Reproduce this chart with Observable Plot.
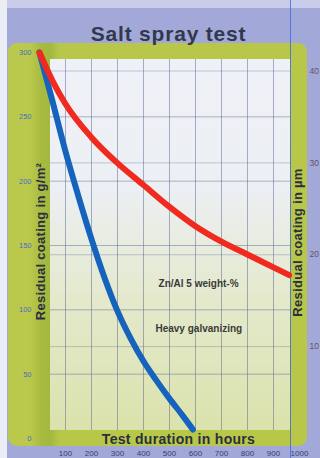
<!DOCTYPE html>
<html>
<head>
<meta charset="utf-8">
<script src="https://cdn.jsdelivr.net/npm/d3@7"></script>
<script src="https://cdn.jsdelivr.net/npm/@observablehq/plot@0.6"></script>
<style>
  html, body { margin: 0; padding: 0; background: #eef0f6; }
  #wrap { position: relative; width: 320px; height: 458px; overflow: hidden; background: #a2a9d9; font-family: "Liberation Sans", Arial, sans-serif; }
  .bg { position: absolute; }
  #leftstrip { left: 0; top: 0; width: 7px; height: 458px; background: #eceef6; }
  #topstrip { left: 0; top: 0; width: 320px; height: 8px; background: #c9cdea; }
  #frame { left: 8px; top: 43px; width: 299px; height: 403px; border-radius: 9px;
    background: linear-gradient(90deg, #bac94c 0px, #bac94c 22px, #a6ba40 34px, #a3b83e 42px, #b8c74a 52px, #b8c74a 100%); }
  #inner { left: 50px; top: 59px; width: 240px; height: 371px;
    background: linear-gradient(180deg, #eff1f8 0%, #eceff3 35%, #e4e9cc 65%, #dbe2ac 100%); }
  #scanline { left: 290px; top: 0; width: 1px; height: 458px; background: #2f63e6; opacity: 0.75; }
  #chart { position: absolute; left: 0; top: 0; }
</style>
</head>
<body>
<div id="wrap">
  <div class="bg" id="topstrip"></div>
  <div class="bg" id="leftstrip"></div>
  <div class="bg" id="frame"></div>
  <div class="bg" id="inner"></div>
  <div class="bg" id="scanline"></div>
  <div id="chart"></div>
</div>
<script>
// Data
const redHours  = [0, 50, 100, 200, 300, 400, 500, 600, 700, 800, 900, 960];
const redValues = [300, 278, 260, 234, 214, 197, 180, 165, 153, 143, 133, 127];
const blueHours  = [0, 50, 100, 150, 200, 250, 300, 350, 400, 450, 500, 550, 590];
const blueValues = [300, 262, 223, 188, 155, 125, 99, 78, 60, 45, 31, 18, 7];
const xTicks = [100, 200, 300, 400, 500, 600, 700, 800, 900, 1000];
const yTicks = [0, 50, 100, 150, 200, 250, 300];
const umTicks = [10, 20, 30, 40];
const gPerUm = 7.14;
const labelNames = ["Zn/Al 5 weight-%", "Heavy galvanizing"];
const labelHours = [458, 446];
const labelValues = [120, 85];

const red = redHours.map((h, i) => ({hours: h, value: redValues[i]}));
const blue = blueHours.map((h, i) => ({hours: h, value: blueValues[i]}));
const labels = labelNames.map((t, i) => ({text: t, hours: labelHours[i], value: labelValues[i]}));
const gridXTicks = xTicks.filter(d => d < 1000);
const gridYTicks = yTicks.filter(d => d > 0 && d < 300);
const umAsG = umTicks.map(d => d * gPerUm);

const font = "Liberation Sans, Arial, sans-serif";
const dark = "#2b2f3f";

const chart = Plot.plot({
  width: 320,
  height: 458,
  marginLeft: 50,
  marginRight: 30,
  marginTop: 59,
  marginBottom: 28,
  style: {background: "transparent", fontFamily: font, overflow: "visible"},
  x: {domain: [0, 1000], range: [39, 299]},
  y: {domain: [0, 300], range: [438, 52]},
  marks: [
    Plot.gridX(gridXTicks, {stroke: "#53648f", strokeOpacity: 0.55, strokeWidth: 0.9}),
    Plot.gridY(gridYTicks, {stroke: "#53648f", strokeOpacity: 0.5, strokeWidth: 0.9}),
    Plot.gridY(umAsG, {stroke: "#53648f", strokeOpacity: 0.4, strokeWidth: 0.8}),
    Plot.axisX(xTicks, {anchor: "bottom", tickSize: 0, tickPadding: 20, fontSize: 8, fill: "#34406e", label: null,
      tickFormat: d => String(d)}),
    Plot.axisY(yTicks, {anchor: "left", tickSize: 0, tickPadding: 19, fontSize: 7.5, fill: "#4a6cc0", label: null}),
    Plot.axisY(umAsG, {anchor: "right", tickSize: 0, tickPadding: 19, fontSize: 8.5, fill: "#6a5064", label: null,
      tickFormat: d => String(Math.round(d / gPerUm))}),
    Plot.line(blue, {x: "hours", y: "value", stroke: "#1663bd", strokeWidth: 6, curve: "monotone-x"}),
    Plot.line(red, {x: "hours", y: "value", stroke: "#f02a1e", strokeWidth: 6, curve: "monotone-x"}),
    Plot.text(labels, {x: "hours", y: "value", text: "text", textAnchor: "start", fontSize: 10, fontWeight: "bold",
      fill: "#3a3a3a", style: "letter-spacing:0.6px"}),
    Plot.text(["Salt spray test"], {frameAnchor: "top", dx: -2, dy: -25, fontSize: 21, fontWeight: "bold",
      fill: "#33384e", textAnchor: "middle", lineAnchor: "middle"}),
    Plot.text(["Test duration in hours"], {frameAnchor: "bottom", dx: 8, dy: 9.5, fontSize: 14, fontWeight: "bold",
      fill: dark, textAnchor: "middle", lineAnchor: "middle"}),
    Plot.text(["Residual coating in g/m²"], {frameAnchor: "left", dx: -10, dy: -3.5, rotate: -90, fontSize: 13,
      fontWeight: "bold", fill: dark, textAnchor: "middle", lineAnchor: "middle"}),
    Plot.text(["Residual coating in µm"], {frameAnchor: "right", dx: 7, dy: -2.5, rotate: -90, fontSize: 13,
      fontWeight: "bold", fill: dark, textAnchor: "middle", lineAnchor: "middle"})
  ]
});
chart.querySelectorAll("text").forEach(t => {
  const s = t.textContent;
  if (s === "Salt spray test") t.style.letterSpacing = "0.8px";
  if (s === "Test duration in hours") t.style.letterSpacing = "0.3px";
  if (s.startsWith("Residual")) t.style.letterSpacing = "0.3px";
});
document.getElementById("chart").appendChild(chart);
</script>
</body>
</html>
